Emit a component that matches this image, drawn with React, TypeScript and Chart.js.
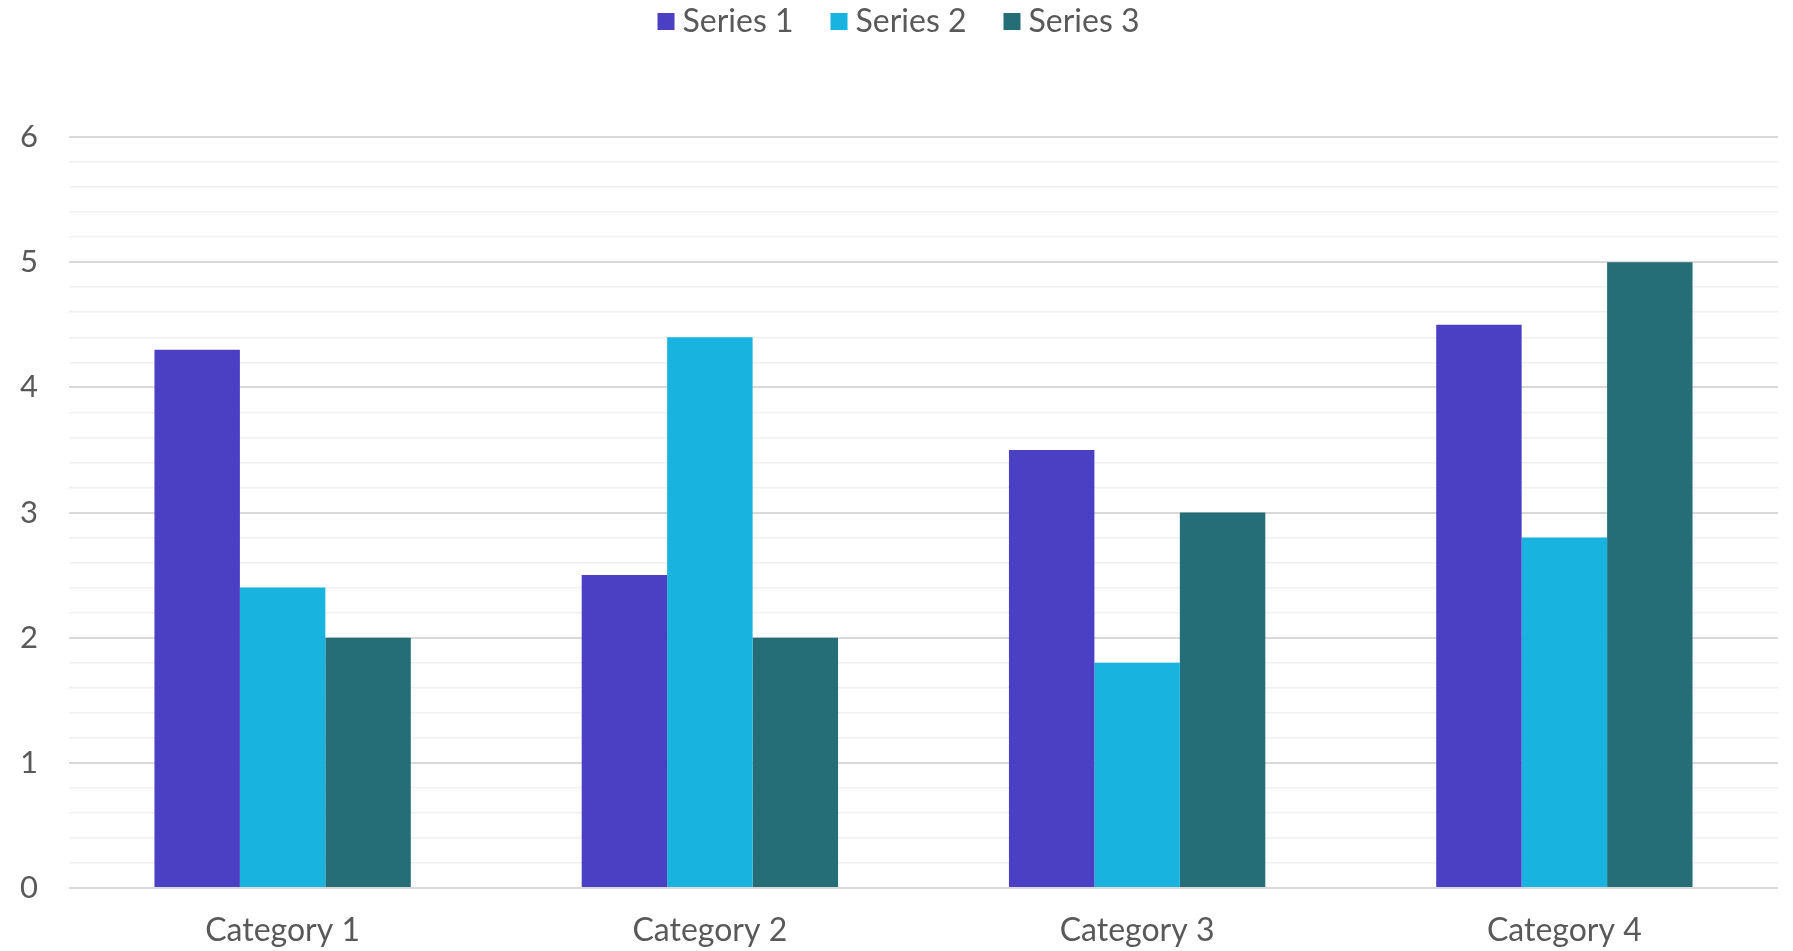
import React, { useEffect, useRef } from "react";
import { Chart, registerables } from "chart.js";

Chart.register(...registerables);

const categories = ["Category 1", "Category 2", "Category 3", "Category 4"];
const seriesNames = ["Series 1", "Series 2", "Series 3"];
const series1 = [4.3, 2.5, 3.5, 4.5];
const series2 = [2.4, 4.4, 1.8, 2.8];
const series3 = [2, 2, 3, 5];
const seriesColors = ["#4B40C4", "#18B3DF", "#256D77"];
const yMin = 0;
const yMax = 6;
const yStep = 0.2;

const FONT = "Lato, 'Noto Sans', sans-serif";
const TEXT = "#595959";

const isMajor = (v: number) => Math.abs(v - Math.round(v)) < 1e-6;

export default function App() {
  const ref = useRef<HTMLCanvasElement | null>(null);
  useEffect(() => {
    if (!ref.current) return;
    const legendLayout = {
      id: "legendLayout",
      beforeInit(chart: any) {
        const legend = chart.legend;
        const orig = legend.fit;
        legend.fit = function () {
          orig.call(this);
          this.height = 137;
        };
        legend.draw = function () {
          const ctx = chart.ctx;
          const items = this.legendItems || [];
          const box = 17;
          const gap = 8;
          const itemGap = 37;
          ctx.save();
          ctx.font = `32px ${FONT}`;
          const widths = items.map((it: any) => ctx.measureText(it.text).width);
          const total =
            widths.reduce((a: number, w: number) => a + w + box + gap, 0) + itemGap * (items.length - 1);
          let x = chart.width / 2 + 2 - total / 2;
          const baseline = 32;
          const boxTop = 13;
          items.forEach((it: any, i: number) => {
            ctx.fillStyle = it.fillStyle;
            ctx.fillRect(x, boxTop, box, box);
            ctx.fillStyle = TEXT;
            ctx.textAlign = "left";
            ctx.textBaseline = "alphabetic";
            ctx.fillText(it.text, x + box + gap, baseline);
            x += box + gap + widths[i] + itemGap;
          });
          ctx.restore();
        };
      },
    };
    const chart = new Chart(ref.current, {
      type: "bar",
      data: {
        labels: categories,
        datasets: [series1, series2, series3].map((d, i) => ({
          label: seriesNames[i],
          data: d,
          backgroundColor: seriesColors[i],
          borderWidth: 0,
          categoryPercentage: 0.6,
          barPercentage: 1.0,
        })),
      },
      options: {
        animation: false,
        responsive: true,
        maintainAspectRatio: false,
        layout: { padding: { top: 0, right: 15, bottom: 0, left: 0 } },
        plugins: {
          legend: {
            position: "top",
            align: "center",
            labels: {
              boxWidth: 17,
              boxHeight: 17,
              padding: 10,
              color: TEXT,
              font: { family: FONT, size: 32 },
            },
          },
          tooltip: { enabled: false },
        },
        scales: {
          x: {
            grid: { display: false, drawTicks: false },
            border: { display: false },
            ticks: {
              color: TEXT,
              font: { family: FONT, size: 32 },
              padding: 23,
            },
            afterFit(scale: any) {
              scale.height = 63;
            },
          },
          y: {
            min: yMin,
            max: yMax,
            border: { display: false },
            grid: {
              drawTicks: false,
              color: (ctx: any) => (isMajor(ctx.tick?.value ?? 0) ? "#D9D9D9" : "#F0F0F0"),
              lineWidth: (ctx: any) => (isMajor(ctx.tick?.value ?? 0) ? 2 : 1.5),
            },
            ticks: {
              stepSize: yStep,
              autoSkip: false,
              color: TEXT,
              font: { family: FONT, size: 31 },
              padding: 31,
              callback: (v: any) => (isMajor(Number(v)) ? String(Math.round(Number(v))) : ""),
            },
            afterFit(scale: any) {
              scale.width = 69;
            },
          },
        },
      },
      plugins: [legendLayout],
    });
    return () => chart.destroy();
  }, []);
  return (
    <div style={{ position: "fixed", left: 0, top: 0, width: 1793, height: 951, background: "#fff" }}>
      <canvas ref={ref} />
    </div>
  );
}
